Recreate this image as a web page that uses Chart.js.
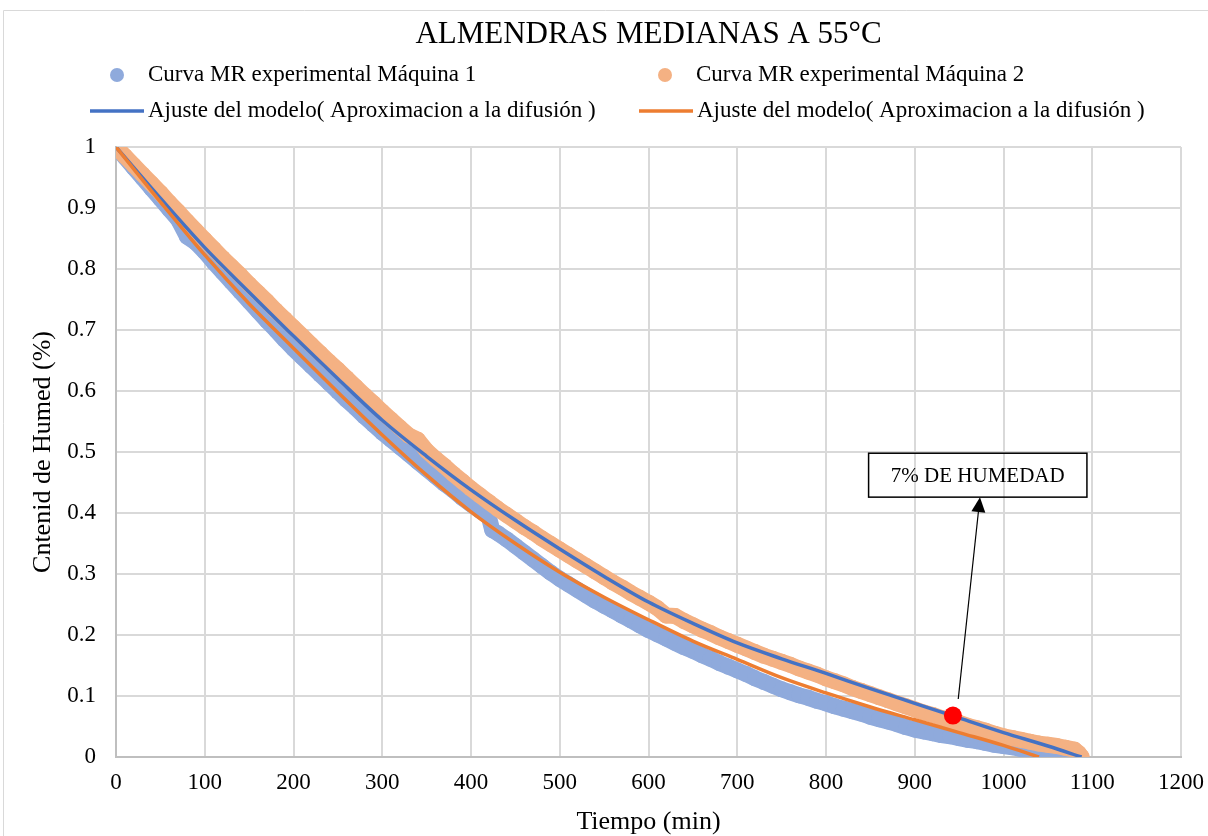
<!DOCTYPE html>
<html>
<head>
<meta charset="utf-8">
<script src="https://cdn.jsdelivr.net/npm/chart.js@4.4.1/dist/chart.umd.min.js"></script>
<style>
  body { margin: 0; background: #fff; }
  canvas { display: block; }
</style>
</head>
<body>
<canvas id="grafico" width="1208" height="836"></canvas>
<script>
const titulo = 'ALMENDRAS MEDIANAS A 55°C';
const etiquetas = ['Curva MR experimental Máquina 1', 'Curva MR experimental Máquina 2',
    'Ajuste del modelo( Aproximacion a la difusión )', 'Ajuste del modelo( Aproximacion a la difusión )'];

// maquina 1 (puntos experimentales)
const tiempo_m1 = [0, 10, 20, 30, 40, 50, 60, 70, 80, 90, 100, 110, 120, 130, 140, 150, 160, 170, 180, 190,
    200, 210, 220, 230, 240, 250, 260, 270, 280, 290, 300, 310, 320, 330, 340, 350, 360, 370, 380, 390,
    400, 410, 420, 424, 430, 440, 450, 460, 470, 480, 490, 500, 510, 520, 530, 540, 550, 560, 570, 580, 590,
    600, 610, 620, 630, 640, 650, 660, 670, 680, 690, 700, 710, 720, 730, 740, 750, 760, 770, 780, 790,
    800, 810, 820, 830, 840, 850, 860, 870, 880, 890, 900, 910, 920, 930, 940, 950, 960, 970, 980, 990,
    1000, 1010, 1020, 1030, 1040, 1050, 1060, 1070, 1078];
const mr_m1 = [1.0, 0.983, 0.966, 0.949, 0.932, 0.915, 0.898, 0.881, 0.853, 0.843, 0.828, 0.811, 0.795, 0.779, 0.763, 0.747, 0.731, 0.715, 0.7, 0.684,
    0.669, 0.655, 0.641, 0.627, 0.613, 0.599, 0.585, 0.572, 0.558, 0.545, 0.532, 0.52, 0.508, 0.496, 0.484, 0.472, 0.46, 0.448, 0.437, 0.425,
    0.414, 0.404, 0.394, 0.372, 0.367, 0.357, 0.346, 0.335, 0.324, 0.313, 0.302, 0.292, 0.283, 0.274, 0.265, 0.256, 0.248, 0.24, 0.232, 0.224, 0.216,
    0.208, 0.201, 0.194, 0.187, 0.18, 0.174, 0.167, 0.161, 0.154, 0.148, 0.142, 0.136, 0.129, 0.123, 0.117, 0.111, 0.106, 0.101, 0.097, 0.092,
    0.088, 0.083, 0.079, 0.075, 0.071, 0.066, 0.062, 0.058, 0.054, 0.049, 0.045, 0.042, 0.039, 0.036, 0.034, 0.031, 0.028, 0.026, 0.023, 0.02,
    0.018, 0.016, 0.013, 0.011, 0.009, 0.007, 0.004, 0.002, 0.0];

// maquina 2 (puntos experimentales)
const tiempo_m2 = [0, 10, 20, 30, 40, 50, 60, 70, 80, 90, 100, 110, 120, 130, 140, 150, 160, 170, 180, 190,
    200, 210, 220, 230, 240, 250, 260, 270, 280, 290, 300, 310, 320, 330, 340, 350, 360, 370, 380, 390,
    400, 410, 420, 430, 440, 450, 460, 470, 480, 490, 500, 510, 520, 530, 540, 550, 560, 570, 580, 590,
    600, 610, 620, 630, 640, 650, 660, 670, 680, 690, 700, 710, 720, 730, 740, 750, 760, 770, 780, 790,
    800, 810, 820, 830, 840, 850, 860, 870, 880, 890, 900, 910, 920, 930, 940, 950, 960, 970, 980, 990,
    1000, 1010, 1020, 1030, 1040, 1050, 1060, 1070, 1080, 1085, 1088];
const mr_m2 = [1.0, 0.985, 0.97, 0.955, 0.94, 0.925, 0.909, 0.894, 0.878, 0.863, 0.848, 0.833, 0.818, 0.804, 0.79, 0.775, 0.761, 0.747, 0.732, 0.718,
    0.704, 0.69, 0.676, 0.662, 0.648, 0.635, 0.621, 0.607, 0.593, 0.58, 0.566, 0.553, 0.54, 0.527, 0.52, 0.502, 0.489, 0.477, 0.464, 0.452,
    0.44, 0.429, 0.418, 0.407, 0.397, 0.387, 0.377, 0.368, 0.358, 0.349, 0.34, 0.331, 0.322, 0.313, 0.304, 0.295, 0.286, 0.278, 0.269, 0.261,
    0.253, 0.244, 0.232, 0.231, 0.223, 0.216, 0.209, 0.203, 0.196, 0.19, 0.184, 0.178, 0.172, 0.166, 0.161, 0.156, 0.151, 0.145, 0.14, 0.135,
    0.129, 0.124, 0.119, 0.113, 0.108, 0.103, 0.098, 0.093, 0.088, 0.083, 0.078, 0.073, 0.069, 0.064, 0.06, 0.056, 0.051, 0.047, 0.043, 0.038,
    0.034, 0.031, 0.028, 0.025, 0.022, 0.02, 0.018, 0.015, 0.012, 0.006, 0.0];

// ajuste del modelo
const tiempo_aj1 = [0, 50, 100, 150, 200, 250, 300, 350, 400, 450, 500, 550, 600, 650, 700, 750, 800, 850, 900, 950, 1000, 1050, 1088];
const mr_aj1 = [1.0, 0.916, 0.835, 0.762, 0.69, 0.62, 0.552, 0.493, 0.438, 0.388, 0.341, 0.296, 0.254, 0.219, 0.187, 0.161, 0.137, 0.112, 0.088, 0.064, 0.04, 0.018, 0.0];
const tiempo_aj2 = [0, 50, 100, 150, 200, 250, 300, 350, 400, 450, 500, 550, 600, 650, 700, 750, 800, 850, 900, 950, 1000, 1040];
const mr_aj2 = [1.0, 0.91, 0.823, 0.743, 0.67, 0.598, 0.528, 0.462, 0.402, 0.35, 0.303, 0.262, 0.225, 0.19, 0.16, 0.13, 0.105, 0.082, 0.061, 0.04, 0.019, 0.0];

// punto 7% de humedad
const punto_7 = [{x: 943, y: 0.068}];
const nota_texto = '7% DE HUMEDAD';
const nota_caja = [848, 1094, 0.426, 0.498];   // x0, x1, y0, y1 en unidades del grafico
const nota_flecha = [949, 0.095, 973.5, 0.426];

const color_lst = ['#8faadc', '#f4b183', '#4472c4', '#ed7d31', '#ff0000'];
const fuente = '"Liberation Serif", "Times New Roman", serif';

function pares(xs, ys) {
    let out = [];
    for (let i = 0; i < xs.length; i++) out.push({x: xs[i], y: ys[i]});
    return out;
}

// titulo, leyenda y anotacion dibujados a mano
const extras = {
    id: 'extras',
    beforeDraw(chart) {
        let ctx = chart.ctx;
        ctx.save();
        ctx.strokeStyle = '#d9d9d9';
        ctx.lineWidth = 1;
        ctx.beginPath();
        ctx.moveTo(3.5, chart.height);
        ctx.lineTo(3.5, 10.5);
        ctx.lineTo(chart.width, 10.5);
        ctx.stroke();
        ctx.restore();
    },
    afterDatasetsDraw(chart) {
        let ctx = chart.ctx;
        let sx = chart.scales.x, sy = chart.scales.y;
        ctx.save();
        // caja
        let x0 = sx.getPixelForValue(nota_caja[0]), x1 = sx.getPixelForValue(nota_caja[1]);
        let y0 = sy.getPixelForValue(nota_caja[2]), y1 = sy.getPixelForValue(nota_caja[3]);
        ctx.strokeStyle = '#000';
        ctx.lineWidth = 1.5;
        ctx.strokeRect(x0, y1, x1 - x0, y0 - y1);
        ctx.fillStyle = '#000';
        ctx.font = '21px ' + fuente;
        ctx.textAlign = 'center';
        ctx.textBaseline = 'middle';
        ctx.fillText(nota_texto, (x0 + x1) / 2, (y0 + y1) / 2 + 1);
        // flecha
        let ax = sx.getPixelForValue(nota_flecha[0]), ay = sy.getPixelForValue(nota_flecha[1]);
        let bx = sx.getPixelForValue(nota_flecha[2]), by = sy.getPixelForValue(nota_flecha[3]);
        let ang = Math.atan2(by - ay, bx - ax);
        let largo = 15, ancho = 7;
        let hx = bx - largo * Math.cos(ang), hy = by - largo * Math.sin(ang);
        ctx.lineWidth = 1.2;
        ctx.beginPath();
        ctx.moveTo(ax, ay);
        ctx.lineTo(hx, hy);
        ctx.stroke();
        ctx.beginPath();
        ctx.moveTo(bx, by);
        ctx.lineTo(hx + ancho * Math.sin(ang), hy - ancho * Math.cos(ang));
        ctx.lineTo(hx - ancho * Math.sin(ang), hy + ancho * Math.cos(ang));
        ctx.closePath();
        ctx.fill();
        ctx.restore();
    },
    afterDraw(chart) {
        let ctx = chart.ctx;
        let area = chart.chartArea;
        ctx.save();
        ctx.fillStyle = '#000';
        ctx.textBaseline = 'middle';
        ctx.textAlign = 'center';
        ctx.font = '31px ' + fuente;
        ctx.fillText(titulo, (area.left + area.right) / 2, 35);

        const pos = [[117, 75], [665, 75], [90, 111], [639, 111]];
        ctx.font = '23px ' + fuente;
        ctx.textAlign = 'left';
        for (let i = 0; i < 4; i++) {
            let [x, y] = pos[i];
            let ds = chart.data.datasets[i];
            if (i < 2) {
                ctx.fillStyle = ds.backgroundColor;
                ctx.beginPath();
                ctx.arc(x, y, 7, 0, Math.PI * 2);
                ctx.fill();
                ctx.fillStyle = '#000';
                ctx.fillText(ds.label, x + 31, y);
            } else {
                ctx.strokeStyle = ds.borderColor;
                ctx.lineWidth = 3.5;
                ctx.beginPath();
                ctx.moveTo(x, y);
                ctx.lineTo(x + 54, y);
                ctx.stroke();
                ctx.fillStyle = '#000';
                ctx.fillText(ds.label, x + 58, y);
            }
        }
        ctx.restore();
    }
};

// las nubes de puntos son muy densas: se dibujan con marcador y un trazo ancho del mismo color
function nube(label, xs, ys, color, orden) {
    return {
        label: label,
        data: pares(xs, ys),
        showLine: true,
        backgroundColor: color,
        borderColor: color,
        borderWidth: 16,
        borderJoinStyle: 'round',
        borderCapStyle: 'round',
        pointRadius: 8,
        pointBorderWidth: 0,
        order: orden
    };
}

function ajuste(label, xs, ys, color, orden) {
    return {
        label: label,
        data: pares(xs, ys),
        showLine: true,
        borderColor: color,
        backgroundColor: color,
        borderWidth: 3.5,
        pointRadius: 0,
        cubicInterpolationMode: 'monotone',
        order: orden
    };
}

let data_grafico = {
    datasets: [
        nube(etiquetas[0], tiempo_m1, mr_m1, color_lst[0], 5),
        nube(etiquetas[1], tiempo_m2, mr_m2, color_lst[1], 4),
        ajuste(etiquetas[2], tiempo_aj1, mr_aj1, color_lst[2], 3),
        ajuste(etiquetas[3], tiempo_aj2, mr_aj2, color_lst[3], 2),
        {
            label: '7%',
            data: punto_7,
            backgroundColor: color_lst[4],
            borderColor: color_lst[4],
            pointRadius: 9,
            borderWidth: 0,
            order: 1
        }
    ]
};

let config = {
    type: 'scatter',
    data: data_grafico,
    options: {
        responsive: false,
        animation: false,
        layout: {
            padding: {top: 147, right: 27, left: 0, bottom: 0}
        },
        plugins: {
            legend: {display: false},
            title: {display: false},
            tooltip: {enabled: false}
        },
        scales: {
            x: {
                type: 'linear',
                min: 0,
                max: 1200,
                ticks: {
                    stepSize: 100,
                    padding: 12,
                    color: '#000',
                    font: {family: fuente, size: 23},
                    callback: v => String(v)
                },
                grid: {color: '#d9d9d9', lineWidth: 2, drawTicks: false},
                border: {color: '#bfbfbf', width: 2},
                title: {
                    display: true,
                    text: 'Tiempo (min)',
                    color: '#000',
                    font: {family: fuente, size: 26},
                    padding: {top: 0, bottom: -2}
                },
                afterFit(scale) {
                    scale.height = 79;
                    scale.paddingLeft = 0;
                    scale.paddingRight = 0;
                }
            },
            y: {
                min: 0,
                max: 1,
                ticks: {
                    stepSize: 0.1,
                    padding: 20,
                    color: '#000',
                    font: {family: fuente, size: 23},
                    callback: v => +v.toFixed(1)
                },
                grid: {color: '#d9d9d9', lineWidth: 2, drawTicks: false},
                border: {color: '#bfbfbf', width: 2},
                title: {
                    display: true,
                    text: 'Cntenid de Humed (%)',
                    color: '#000',
                    font: {family: fuente, size: 26},
                    padding: {top: 28, bottom: 0}
                },
                afterFit(scale) {
                    scale.width = 116;
                    scale.paddingTop = 0;
                    scale.paddingBottom = 0;
                }
            }
        }
    },
    plugins: [extras]
};

new Chart(document.getElementById('grafico').getContext('2d'), config);
</script>
</body>
</html>
